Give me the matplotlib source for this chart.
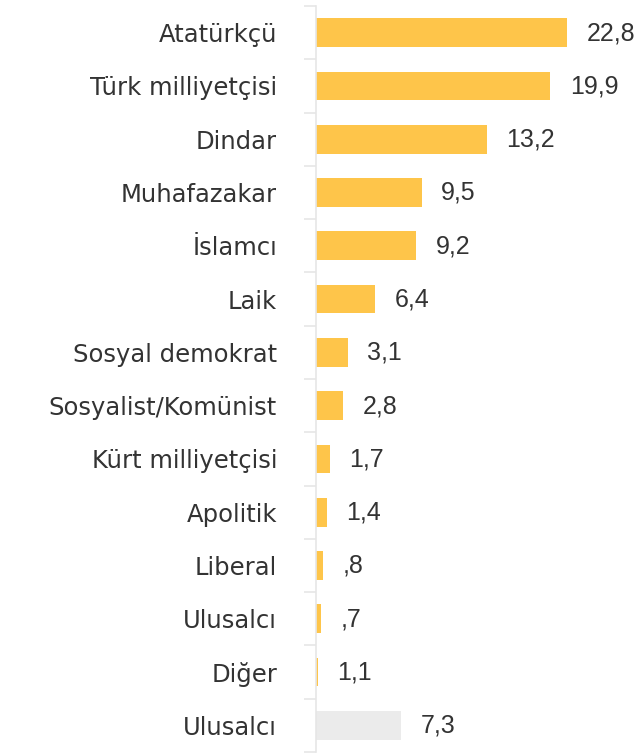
import matplotlib
matplotlib.use("Agg")
import matplotlib.pyplot as plt
import numpy as np

categories = ["Atatürkçü", "Türk milliyetçisi", "Dindar", "Muhafazakar", "İslamcı",
              "Laik", "Sosyal demokrat", "Sosyalist/Komünist", "Kürt milliyetçisi",
              "Apolitik", "Liberal", "Ulusalcı", "Diğer", "Ulusalcı"]
# value labels as printed
value_labels = ["22,8", "19,9", "13,2", "9,5", "9,2", "6,4", "3,1", "2,8", "1,7",
                "1,4", ",8", ",7", "1,1", "7,3"]
# bar lengths as drawn in the reference
bar_values = [22.8, 21.3, 15.5, 9.6, 9.06, 5.36, 2.88, 2.48, 1.25, 0.97, 0.61, 0.43, 0.15, 7.73]
bar_colors = ["#FEC54A"] * 13 + ["#EBEBEB"]

plt.rcParams['font.family'] = ['DejaVu Sans']
W, H, DPI = 642, 753, 100
fig = plt.figure(figsize=(W / DPI, H / DPI), dpi=DPI)
ax = fig.add_axes([316 / W, 1 - 752 / H, 1 - 316 / W, (752 - 6) / H])

n = len(categories)
y = np.arange(n)
ax.barh(y, bar_values, height=0.54, color=bar_colors)
ax.set_ylim(n - 0.5, -0.5)
ax.set_xlim(0, (W - 316) / 11.0)

text_color = "#333333"
for yi, v, lab in zip(y, bar_values, value_labels):
    ax.annotate(lab, (v, yi), xytext=(14.2, -5.3), textcoords="offset points",
                va="baseline", ha="left", fontsize=18, color=text_color,
                family=["Liberation Sans", "DejaVu Sans"])

ax.set_yticks(y)
ax.set_yticklabels(categories, fontsize=17.5, color=text_color)
ax.tick_params(axis="y", which="major", length=0, pad=28)
ax.set_yticks(np.arange(-0.5, n, 1.0), minor=True)
ax.tick_params(axis="y", which="minor", length=8.6, width=1.2, color="#E6E6E6")
ax.set_xticks([])
for s in ["top", "right", "bottom"]:
    ax.spines[s].set_visible(False)
ax.spines["left"].set_color("#E6E6E6")
ax.spines["left"].set_linewidth(1.2)

fig.savefig("out.png", dpi=DPI)
